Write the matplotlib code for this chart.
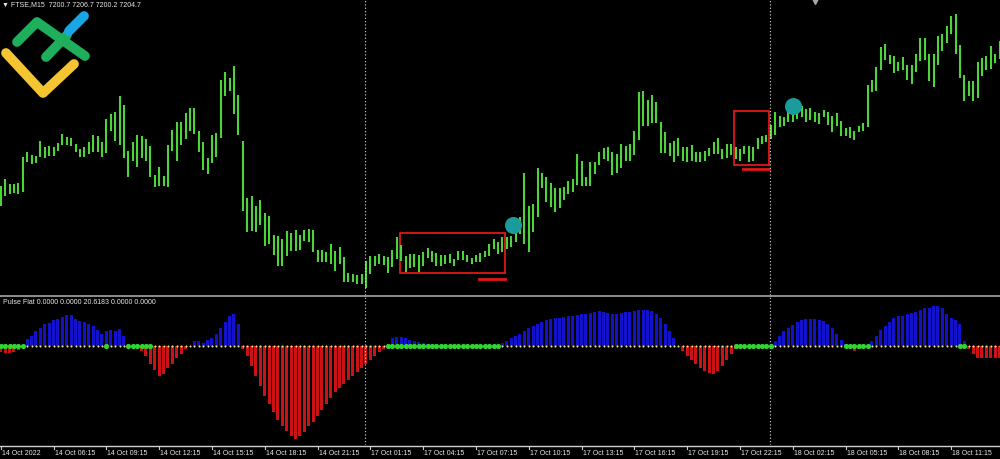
import matplotlib
matplotlib.use("Agg")
import matplotlib.pyplot as plt
from matplotlib.patches import Rectangle
from matplotlib.lines import Line2D
import numpy as np

# ---------------- data ----------------
high = [7113, 7120, 7115, 7115, 7116, 7142, 7147, 7144, 7143, 7158,
        7152, 7153, 7152, 7156, 7165, 7162, 7161, 7155, 7150, 7152,
        7157, 7164, 7163, 7157, 7180, 7185, 7187, 7203, 7194, 7148,
        7157, 7164, 7163, 7160, 7153, 7124, 7132, 7123, 7154, 7169,
        7177, 7177, 7186, 7191, 7191, 7168, 7157, 7141, 7164, 7166,
        7219, 7227, 7221, 7233, 7204, 7158, 7101, 7103, 7093, 7099,
        7086, 7083, 7064, 7063, 7060, 7068, 7066, 7069, 7064, 7069,
        7070, 7069, 7049, 7049, 7047, 7055, 7048, 7052, 7042, 7026,
        7025, 7024, 7025, 7038, 7043, 7043, 7045, 7043, 7042, 7049,
        7062, 7054, 7043, 7045, 7045, 7044, 7047, 7051, 7048, 7046,
        7044, 7044, 7045, 7040, 7048, 7048, 7044, 7041, 7044, 7046,
        7048, 7055, 7060, 7057, 7062, 7062, 7063, 7080, 7082, 7126,
        7093, 7095, 7131, 7126, 7122, 7116, 7111, 7111, 7112, 7118,
        7120, 7145, 7138, 7122, 7137, 7137, 7147, 7151, 7152, 7147,
        7145, 7155, 7153, 7155, 7168, 7207, 7208, 7199, 7204, 7197,
        7177, 7167, 7156, 7158, 7161, 7152, 7152, 7154, 7147, 7147,
        7148, 7151, 7157, 7161, 7150, 7155, 7155, 7152, 7150, 7153,
        7153, 7152, 7161, 7163, 7164, 7174, 7187, 7183, 7182, 7188,
        7187, 7193, 7193, 7190, 7191, 7187, 7186, 7189, 7187, 7183,
        7186, 7178, 7171, 7172, 7168, 7173, 7176, 7214, 7219, 7232,
        7252, 7255, 7244, 7243, 7237, 7242, 7234, 7234, 7245, 7261,
        7261, 7245, 7245, 7263, 7265, 7273, 7283, 7285, 7254, 7224,
        7218, 7218, 7237, 7241, 7243, 7253, 7245, 7258]
low = [7093, 7103, 7105, 7106, 7105, 7107, 7137, 7135, 7136, 7142,
       7141, 7143, 7143, 7148, 7154, 7154, 7153, 7147, 7142, 7142,
       7145, 7147, 7147, 7142, 7146, 7168, 7158, 7154, 7141, 7122,
       7138, 7132, 7141, 7138, 7122, 7112, 7113, 7113, 7112, 7148,
       7138, 7154, 7160, 7168, 7165, 7147, 7129, 7125, 7136, 7142,
       7161, 7203, 7208, 7185, 7164, 7088, 7067, 7068, 7067, 7074,
       7053, 7055, 7044, 7033, 7033, 7043, 7048, 7048, 7049, 7058,
       7057, 7047, 7037, 7037, 7037, 7035, 7028, 7035, 7017, 7017,
       7017, 7015, 7015, 7011, 7025, 7033, 7035, 7034, 7026, 7032,
       7040, 7038, 7027, 7031, 7032, 7027, 7033, 7041, 7037, 7033,
       7033, 7035, 7036, 7033, 7039, 7039, 7037, 7035, 7037, 7037,
       7042, 7043, 7050, 7045, 7047, 7050, 7052, 7057, 7065, 7055,
       7047, 7067, 7082, 7111, 7097, 7092, 7087, 7091, 7099, 7105,
       7107, 7114, 7113, 7113, 7113, 7125, 7134, 7140, 7138, 7124,
       7126, 7131, 7138, 7138, 7144, 7159, 7173, 7173, 7176, 7176,
       7146, 7146, 7143, 7137, 7143, 7138, 7137, 7138, 7137, 7137,
       7138, 7143, 7145, 7145, 7140, 7141, 7144, 7140, 7138, 7145,
       7137, 7138, 7150, 7155, 7157, 7160, 7164, 7172, 7173, 7177,
       7177, 7180, 7182, 7177, 7179, 7177, 7175, 7182, 7174, 7167,
       7173, 7163, 7163, 7161, 7159, 7167, 7168, 7172, 7207, 7208,
       7229, 7239, 7235, 7226, 7228, 7229, 7219, 7215, 7227, 7238,
       7239, 7218, 7212, 7234, 7248, 7256, 7265, 7245, 7221, 7198,
       7203, 7198, 7201, 7223, 7229, 7230, 7236, 7240]

pulse = [-6, -7, -7, -6, -4, 0, 7, 10, 15, 18,
         22, 23, 26, 27, 29, 31, 31, 27, 25, 24,
         22, 20, 16, 12, 15, 16, 15, 17, 10, 0,
         0, 0, -5, -10, -18, -24, -30, -28, -22, -18,
         -12, -8, -3, 0, 5, 5, 3, 6, 8, 12,
         18, 24, 30, 32, 22, -3, -10, -20, -30, -40,
         -50, -58, -66, -74, -80, -85, -90, -93, -90, -86,
         -80, -76, -70, -64, -58, -52, -46, -42, -38, -34,
         -30, -26, -22, -18, -14, -10, -6, -3, 0, 8,
         9, 9, 8, 6, 5, 4, 3, 2, 0, 0,
         0, 0, 0, 0, 0, 0, 0, 0, 0, 0,
         0, 0, 0, 0, 3, 5, 8, 10, 12, 15,
         18, 20, 22, 24, 26, 27, 28, 28, 29, 30,
         30, 31, 32, 32, 33, 34, 35, 34, 33, 32,
         32, 33, 34, 34, 35, 36, 36, 36, 35, 32,
         28, 22, 15, 8, 0, -5, -10, -14, -18, -22,
         -25, -27, -28, -25, -20, -14, -8, -3, 0, 0,
         0, 0, 0, 0, 0, 0, 5, 10, 15, 18,
         21, 24, 26, 27, 27, 27, 26, 25, 22, 18,
         12, 6, 2, 0, -5, -3, 0, 0, 5, 10,
         16, 20, 24, 28, 30, 30, 32, 33, 34, 36,
         38, 38, 40, 40, 38, 32, 28, 26, 22, 5,
         -3, -8, -12, -12, -12, -12, -12, -12]

flat_ranges = [(0, 5), (24, 24), (29, 34), (88, 113), (167, 175), (192, 197), (218, 219)]

tick_labels = ["14 Oct 2022", "14 Oct 06:15", "14 Oct 09:15", "14 Oct 12:15",
               "14 Oct 15:15", "14 Oct 18:15", "14 Oct 21:15", "17 Oct 01:15",
               "17 Oct 04:15", "17 Oct 07:15", "17 Oct 10:15", "17 Oct 13:15",
               "17 Oct 16:15", "17 Oct 19:15", "17 Oct 22:15", "18 Oct 02:15",
               "18 Oct 05:15", "18 Oct 08:15", "18 Oct 11:15"]
tick_every = 12
day_separators = [83, 175]

# annotation zones (bar ranges and price levels)
boxes = [((91, 114), (7026, 7066)), ((167, 174), (7134, 7188))]
underlines = [((109, 114), 7020), ((169, 174), 7130)]
signal_points = [(116.4, 7074), (180.1, 7193)]

header = "\u25BC FTSE,M15  7200.7 7206.7 7200.2 7204.7"
ind_label = "Pulse Flat 0.0000 0.0000 20.6183 0.0000 0.0000"

# ---------------- figure ----------------
assert len(high) == len(low) == len(pulse)
n = len(high)
x = np.arange(n)
W, H = 1000, 460
FONT = ["Liberation Sans", "DejaVu Sans"]
fig = plt.figure(figsize=(W / 100, H / 100), dpi=100, facecolor="black")


def fy(py):
    return 1 - py / H


ax1 = fig.add_axes([0, fy(296), 1, 296 / H])
ax2 = fig.add_axes([0, fy(446), 1, (446 - 298) / H])
xl = (-0.16, -0.16 + W / 4.4)
for ax in (ax1, ax2):
    ax.set_facecolor("black")
    ax.set_xlim(*xl)
    ax.set_xticks([])
    ax.set_yticks([])
    for s in ax.spines.values():
        s.set_visible(False)

# price bars
ax1.vlines(x, low, high, colors="#4cd43a", lw=1.5)
ax1.set_ylim(7004, 7300)

# annotations
for (b0, b1), (p0, p1) in boxes:
    ax1.add_patch(Rectangle((b0 - 0.25, p0), b1 - b0 + 0.95, p1 - p0,
                            fill=False, ec="#e01818", lw=1.3))
for (b0, b1), p in underlines:
    ax1.plot([b0 - 0.2, b1 + 0.5], [p, p], color="#e01818", lw=2.0)
for bx, p in signal_points:
    ax1.scatter([bx], [p], s=150, color="#1b9c9c", zorder=5, lw=0)

# indicator
pv = np.array(pulse, dtype=float)
cols = np.where(pv > 0, "#1212cc", "#cc1212")
ax2.bar(x, pv, width=0.72, color=cols, lw=0)
ax2.set_ylim(-99, 49)
flat = np.zeros(n, bool)
for a, b in flat_ranges:
    flat[a:b + 1] = True
ax2.scatter(x[~flat], np.zeros((~flat).sum()), s=2.2, color="#f2e48c", lw=0, zorder=4)
ax2.scatter(x[flat], np.zeros(flat.sum()), s=14, color="#2ed62e", lw=0, zorder=5)

# separators
for d in day_separators:
    for ax in (ax1, ax2):
        ax.axvline(d - 0.2, color="#e0e0e0", lw=0.8, ls=(0, (1, 2)))
    fig.add_artist(Line2D([(d - 0.2 - xl[0]) * 4.4 / W] * 2, [fy(296), fy(298)],
                          color="#e0e0e0", lw=0.8, ls=(0, (1, 2))))

fig.add_artist(Line2D([0, 1], [fy(297), fy(297)], color="#9a9a9a", lw=1.3))
fig.add_artist(Line2D([0, 1], [fy(446.5), fy(446.5)], color="#d0d0d0", lw=1.0))

# time labels
for k, lab in enumerate(tick_labels):
    bi = k * tick_every
    fx = (bi - xl[0]) * 4.4 / W
    fig.add_artist(Line2D([fx, fx], [fy(446.5), fy(450)], color="#d0d0d0", lw=0.8))
    fig.text(fx + 0.001, fy(453.5), lab, fontsize=5.0, color="#e8e8e8",
             ha="left", va="center", family=FONT)

fig.text(0.002, fy(5), header, fontsize=5.0, color="#e8e8e8", ha="left", va="center",
         family=FONT)
fig.text(0.003, fy(303), ind_label, fontsize=5.0, color="#e8e8e8", ha="left", va="center",
         family=FONT)

# chart-shift marker at top
fig.add_artist(Line2D([815 / W], [fy(1.5)], marker="v", ms=4, color="#a8a8a8", lw=0))

# logo (decorative)
def px(pts):
    return [p[0] / W for p in pts], [fy(p[1]) for p in pts]

for pts, c in [([(6, 54), (43, 94), (74, 65)], "#f5c432"),
               ([(17, 43), (37, 23), (85, 57)], "#1fae5b"),
               ([(46, 58), (67, 36)], "#1fae5b"),
               ([(69, 32), (84, 17)], "#17a7e6")]:
    xs, ys = px(pts)
    fig.add_artist(Line2D(xs, ys, color=c, lw=7, solid_capstyle="round",
                          solid_joinstyle="round"))

fig.savefig("out.png", dpi=100, facecolor="black")
